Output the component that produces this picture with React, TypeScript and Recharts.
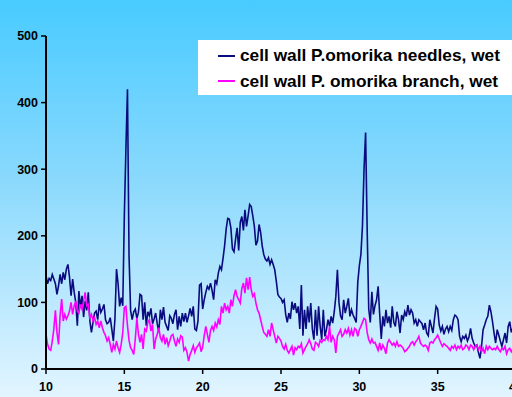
import { Line, LineChart, XAxis, YAxis } from "recharts"

// 2-theta grid: first angle and step between readings
const startAngle = 10
const angleStep = 0.1

const needlesWet = [
  140, 128, 136, 133, 142, 135, 128, 112, 125, 142,
  128, 145, 134, 150, 157, 138, 110, 135, 115, 100,
  65, 117, 92, 110, 78, 102, 88, 115, 72, 55,
  70, 84, 87, 74, 98, 85, 90, 97, 74, 68,
  70, 77, 60, 42, 75, 150, 128, 94, 107, 95,
  230, 330, 420, 170, 88, 74, 86, 90, 76, 85,
  112, 110, 74, 100, 65, 86, 80, 91, 68, 75,
  84, 68, 55, 89, 74, 93, 70, 64, 58, 80,
  76, 68, 82, 89, 59, 79, 64, 84, 71, 84,
  70, 80, 91, 79, 94, 60, 58, 72, 126, 128,
  90, 104, 115, 124, 120, 129, 118, 104, 134, 128,
  144, 154, 149, 166, 185, 210, 226, 225, 212, 180,
  176, 195, 212, 178, 220, 229, 208, 239, 214, 230,
  247, 244, 230, 214, 186, 192, 217, 205, 185, 172,
  165, 162, 167, 157, 164, 157, 149, 132, 112, 108,
  106, 100, 104, 82, 70, 84, 75, 101, 89, 99,
  84, 94, 60, 126, 50, 89, 60, 94, 70, 99,
  60, 44, 89, 50, 94, 64, 44, 89, 49, 59,
  74, 64, 79, 69, 86, 109, 149, 100, 80, 74,
  104, 84, 94, 106, 79, 89, 81, 76, 70, 130,
  155, 172, 215, 300, 355, 210, 90, 70, 116, 82,
  95, 104, 124, 82, 45, 79, 64, 89, 69, 79,
  62, 94, 70, 64, 86, 74, 54, 81, 74, 86,
  79, 96, 81, 89, 84, 69, 74, 64, 74, 71,
  68, 59, 69, 54, 50, 74, 64, 54, 76, 94,
  90, 66, 57, 64, 52, 60, 64, 56, 64, 58,
  74, 81, 79, 74, 49, 41, 49, 46, 51, 42,
  48, 61, 46, 39, 34, 36, 25, 16, 34, 59,
  66, 74, 79, 96, 86, 71, 54, 39, 59, 51,
  42, 34, 44, 54, 39, 64, 71, 55, 62, 50,
  58,
]

const branchWet = [
  52, 37, 30, 28, 42, 60, 88, 55, 37, 80,
  105, 72, 82, 75, 80, 87, 100, 82, 95, 102,
  87, 84, 97, 90, 102, 115, 95, 97, 77, 82,
  72, 77, 67, 72, 62, 72, 62, 55, 50, 42,
  47, 37, 25, 37, 30, 42, 32, 25, 37, 55,
  92, 94, 65, 43, 32, 28, 22, 45, 77, 52,
  40, 52, 30, 60, 57, 70, 74, 57, 67, 30,
  45, 52, 62, 47, 42, 52, 37, 47, 35, 42,
  50, 52, 42, 34, 45, 40, 50, 48, 28, 32,
  25, 12, 22, 28, 35, 25, 32, 35, 39, 26,
  33, 50, 64, 52, 40, 58, 64, 58, 69, 63,
  74, 67, 94, 84, 99, 89, 94, 84, 104, 94,
  110, 119, 109, 104, 99, 121, 129, 114, 137, 119,
  138, 119, 109, 113, 99, 89, 84, 74, 64, 55,
  52, 49, 59, 49, 69, 59, 49, 39, 49, 46,
  42, 34, 30, 37, 28, 24, 29, 34, 21, 32,
  29, 34, 32, 38, 24, 29, 34, 38, 44, 38,
  30, 28, 40, 38, 34, 43, 40, 44, 43, 49,
  44, 64, 40, 49, 44, 24, 49, 54, 59, 49,
  52, 59, 54, 61, 51, 59, 49, 61, 59, 49,
  59, 64, 70, 76, 74, 55, 44, 39, 45, 39,
  40, 34, 28, 39, 28, 36, 31, 23, 39, 44,
  40, 36, 39, 34, 41, 34, 36, 34, 31, 26,
  28, 31, 34, 39, 41, 36, 41, 44, 49, 39,
  36, 34, 36, 34, 28, 39, 41, 39, 44, 47,
  51, 45, 39, 34, 38, 36, 34, 31, 28, 34,
  31, 36, 29, 34, 31, 36, 29, 31, 36, 34,
  29, 36, 34, 29, 34, 36, 29, 34, 26, 31,
  23, 34, 29, 34, 31, 29, 31, 29, 34, 29,
  26, 31, 29, 34, 23, 29, 31, 26, 30, 28,
  30,
]

const xTicks = [10, 15, 20, 25, 30, 35, 40]
const yTicks = [0, 100, 200, 300, 400, 500]

const seriesNames = [
  "cell wall P.omorika needles, wet",
  "cell wall P. omorika branch, wet",
]
const seriesColors = ["#0b0b80", "#ff00ff"]

const data = needlesWet.map((v, i) => ({
  angle: Math.round((startAngle + i * angleStep) * 10) / 10,
  needles: v,
  branch: branchWet[i],
}))

const tickStyle = {
  fontFamily: "Arial, 'Liberation Sans', sans-serif",
  fontWeight: 700,
  fontSize: 12.5,
  fill: "#000",
}

function LegendBox() {
  return (
    <div
      style={{
        position: "absolute",
        left: 198,
        top: 40,
        background: "#fff",
        width: 330,
        height: 55,
        boxSizing: "border-box",
        padding: "3px 0 0 20px",
        fontFamily: "Arial, 'Liberation Sans', sans-serif",
        fontWeight: 700,
        fontSize: 17.3,
        color: "#000",
      }}
    >
      {seriesNames.map((name, i) => (
        <div
          key={name}
          style={{ display: "flex", alignItems: "center", height: 25.5 }}
        >
          <span
            style={{
              display: "inline-block",
              width: 17,
              height: 2,
              background: seriesColors[i],
              marginRight: 5,
            }}
          />
          <span>{name}</span>
        </div>
      ))}
    </div>
  )
}

export default function App() {
  return (
    <div
      style={{
        position: "fixed",
        left: 0,
        top: 0,
        width: 512,
        height: 397,
        overflow: "hidden",
        background: "linear-gradient(#48cbff 0%, #8ad9fd 45%, #e2f5ff 100%)",
      }}
    >
      <LineChart
        width={530}
        height={397}
        data={data}
        margin={{ top: 36, right: 14, bottom: 0, left: 0 }}
      >
        <XAxis
          dataKey="angle"
          type="number"
          domain={[10, 40]}
          ticks={xTicks}
          allowDataOverflow
          height={28}
          tickSize={5}
          tickMargin={8}
          axisLine={{ stroke: "#000", strokeWidth: 2 }}
          tickLine={{ stroke: "#000", strokeWidth: 1.5 }}
          tick={tickStyle}
        />
        <YAxis
          type="number"
          domain={[0, 500]}
          ticks={yTicks}
          allowDataOverflow
          width={46}
          tickSize={5}
          tickMargin={3}
          axisLine={{ stroke: "#000", strokeWidth: 2 }}
          tickLine={{ stroke: "#000", strokeWidth: 1.5 }}
          tick={tickStyle}
        />
        <Line
          dataKey="needles"
          name={seriesNames[0]}
          stroke={seriesColors[0]}
          strokeWidth={1.6}
          dot={false}
          isAnimationActive={false}
        />
        <Line
          dataKey="branch"
          name={seriesNames[1]}
          stroke={seriesColors[1]}
          strokeWidth={1.6}
          dot={false}
          isAnimationActive={false}
        />
      </LineChart>
      <LegendBox />
    </div>
  )
}
